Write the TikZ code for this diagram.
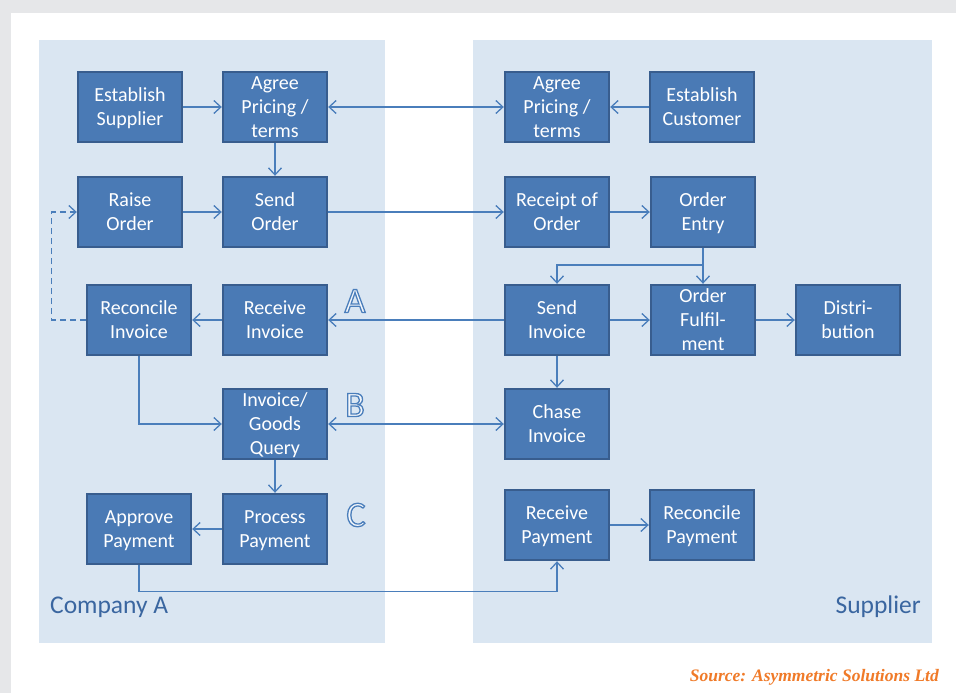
\documentclass[tikz,border=0pt]{standalone}
\usepackage{fontspec}
\setmainfont{Carlito}
\newfontfamily\srcfont{Liberation Serif}
\usetikzlibrary{arrows.meta,calc}
\definecolor{bgray}{HTML}{E6E7E9}
\definecolor{panel}{HTML}{DAE6F2}
\definecolor{boxfill}{HTML}{4A7AB5}
\definecolor{boxline}{HTML}{385D8E}
\definecolor{conn}{HTML}{4A7EBB}
\definecolor{lbl}{HTML}{3A66A0}
\definecolor{src}{HTML}{F07A28}
\definecolor{letterfill}{HTML}{F4F7FB}
\tikzset{
  proc/.style={draw=boxline, line width=2.4pt, fill=boxfill, text=white,
    minimum width=104pt, minimum height=70pt, inner sep=0pt, align=center,
    text depth=0pt, font=\fontsize{20}{24}\selectfont},
  link/.style={draw=conn, line width=1.3pt, -{Straight Barb[length=7pt,width=13pt]}},
  dlink/.style={link, {Straight Barb[length=7pt,width=13pt]}-{Straight Barb[length=7pt,width=13pt]}},
  panellbl/.style={text=lbl, font=\fontsize{25.5}{28}\selectfont, inner sep=0pt},
  letter/.style={text=letterfill, font=\fontsize{36}{36}\selectfont, inner sep=0pt},
}
\newcommand{\stroked}[1]{\special{pdf:literal direct 0.29 0.494 0.733 RG 1.3 w 2 Tr}#1\special{pdf:literal direct 0 Tr}}
\begin{document}
\begin{tikzpicture}[x=1pt,y=-1pt]
\useasboundingbox (0,0) rectangle (956,693);
\fill[bgray] (0,0) rectangle (956,693);
\fill[white] (11,13) rectangle (956,693);
\fill[panel] (39,40) rectangle (385,643);
\fill[panel] (473,40) rectangle (932,643);

\node[proc] (estsup) at (130,107) {Establish\\Supplier};
\node[proc] (agreeL) at (275,107) {Agree\\Pricing /\\terms};
\node[proc] (agreeR) at (557,107) {Agree\\Pricing /\\terms};
\node[proc] (estcus) at (702,107) {Establish\\Customer};

\node[proc] (raise) at (130,212) {Raise\\Order};
\node[proc] (sendord) at (275,212) {Send\\Order};
\node[proc] (receipt) at (557,212) {Receipt of\\Order};
\node[proc] (entry) at (703,212) {Order\\Entry};

\node[proc] (recinv) at (139,320) {Reconcile\\Invoice};
\node[proc] (rcvinv) at (275,320) {Receive\\Invoice};
\node[proc] (sendinv) at (557,320) {Send\\Invoice};
\node[proc] (fulfil) at (703,320) {Order\\Fulfil-\\ment};
\node[proc] (distr) at (848,320) {Distri-\\bution};

\node[proc] (query) at (275,424) {Invoice/\\Goods\\Query};
\node[proc] (chase) at (557,424) {Chase\\Invoice};

\node[proc] (approve) at (139,529) {Approve\\Payment};
\node[proc] (process) at (275,529) {Process\\Payment};
\node[proc] (rcvpay) at (557,525) {Receive\\Payment};
\node[proc] (recpay) at (702,525) {Reconcile\\Payment};

\draw[link] (estsup) -- (agreeL);
\draw[dlink] (agreeL) -- (agreeR);
\draw[link] (estcus) -- (agreeR);
\draw[link] (agreeL) -- (sendord);
\draw[link] (raise) -- (sendord);
\draw[link] (sendord) -- (receipt);
\draw[link] (receipt) -- (entry);
\draw[link] (entry) -- (fulfil);
\coordinate (br) at (703,265);
\draw[link] (br) -| (sendinv.north);
\draw[link] (sendinv) -- (rcvinv);
\draw[link] (rcvinv) -- (recinv);
\draw[link, dashed, dash pattern=on 6pt off 4pt] (recinv.west) -- ++(-34,0) |- (raise.west);
\draw[link] (sendinv) -- (fulfil);
\draw[link] (fulfil) -- (distr);
\draw[link] (sendinv) -- (chase);
\draw[link] (recinv.south) |- (query.west);
\draw[dlink] (query) -- (chase);
\draw[link] (query) -- (process);
\draw[link] (process) -- (approve);
\draw[link] (approve.south) -- ++(0,26) -| (rcvpay.south);
\draw[link] (rcvpay) -- (recpay);

\node[letter] (lA) at (355,301) {\stroked{A}};
\node[letter] (lB) at (355,405) {\stroked{B}};
\node[letter] (lC) at (356,515) {\stroked{C}};

\node[panellbl, anchor=west] (coA) at (50,607) {Company A};
\node[panellbl, anchor=east] (sup) at (921,607) {Supplier};
\node[text=src, font=\srcfont\bfseries\itshape\fontsize{17.5}{20}\selectfont, inner sep=0pt, anchor=east] (source) at (939,677) {Source: Asymmetric Solutions Ltd};
\end{tikzpicture}
\end{document}
